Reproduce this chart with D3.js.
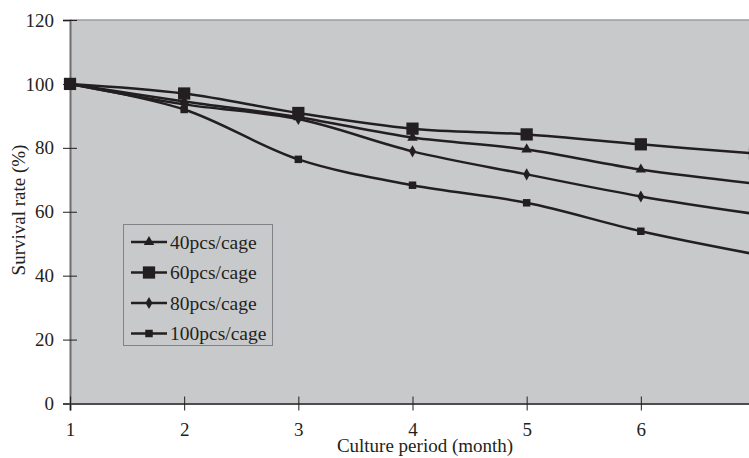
<!DOCTYPE html>
<html>
<head>
  <meta charset="utf-8">
  <title>survival rate chart</title>
  <script type="text/javascript" src="https://cdn.jsdelivr.net/npm/d3@7"></script>
  <style type="text/css">
    body { margin: 0; background: #fff; }
    text { font-family: "Liberation Serif", "Times New Roman", serif; fill: #231f20; }
  </style>
</head>
<body>
<script type="text/javascript">

// data
var months = [1, 2, 3, 4, 5, 6, 7];
var s40 = [100, 94.5, 89.6, 83.2, 79.5, 73.2, 68.8];
var s60 = [100, 97.0, 90.9, 86.0, 84.2, 81.1, 78.2];
var s80 = [100, 93.6, 89.0, 78.9, 71.7, 64.8, 59.3];
var s100 = [100, 92.0, 76.4, 68.3, 62.8, 53.9, 46.7];
var seriesNames = ["40pcs/cage", "60pcs/cage", "80pcs/cage", "100pcs/cage"];
var yTicks = [0, 20, 40, 60, 80, 100, 120];
var xTicks = [1, 2, 3, 4, 5, 6];

var w = 749, h = 458;
var ink = "#231f20";
var fontSize = "19px";

var series = [
  { name: seriesNames[0], values: s40, symbol: d3.symbolTriangle, size: 48 },
  { name: seriesNames[1], values: s60, symbol: d3.symbolSquare, size: 150 },
  { name: seriesNames[2], values: s80, symbol: d3.symbolDiamond, size: 42 },
  { name: seriesNames[3], values: s100, symbol: d3.symbolSquare, size: 56 }
];

var x = d3.scaleLinear().domain([1, 7]).range([70, 755]);
var y = d3.scaleLinear().domain([0, 120]).range([403.5, 20]);

var svg = d3.select("body").append("svg")
  .attr("width", w)
  .attr("height", h);

// plot area
svg.append("rect")
  .attr("x", x(1)).attr("y", y(120))
  .attr("width", x(7) - x(1)).attr("height", y(0) - y(120))
  .attr("fill", "#c8c9cb");
svg.append("line")
  .attr("x1", x(1)).attr("x2", x(7))
  .attr("y1", y(120)).attr("y2", y(120))
  .attr("stroke", "#9a9b9d").attr("stroke-width", 1.5);

// y axis
var yAxis = svg.append("g")
  .attr("transform", "translate(" + x(1) + ",0)")
  .call(d3.axisLeft(y).tickValues(yTicks).tickSize(7).tickPadding(9));
yAxis.select(".domain").attr("stroke", "#6d6e70").attr("stroke-width", 2);
yAxis.selectAll(".tick line").attr("x1", 7).attr("stroke", ink).attr("stroke-width", 1);
yAxis.selectAll(".tick text")
  .attr("font-size", fontSize)
  .attr("font-family", "Liberation Serif, serif")
  .attr("fill", ink);

// x axis
var xAxis = svg.append("g")
  .attr("transform", "translate(0," + y(0) + ")")
  .call(d3.axisBottom(x).tickValues(xTicks).tickFormat(d3.format("d")).tickSize(7).tickPadding(12));
xAxis.select(".domain").attr("stroke", "#4d4d4f").attr("stroke-width", 2);
xAxis.selectAll(".tick line").attr("y1", -7).attr("stroke", ink).attr("stroke-width", 1);
xAxis.selectAll(".tick text")
  .attr("font-size", fontSize)
  .attr("font-family", "Liberation Serif, serif")
  .attr("fill", ink);

// axis titles
svg.append("text")
  .attr("x", 425).attr("y", 452)
  .attr("text-anchor", "middle")
  .attr("font-size", fontSize)
  .text("Culture period (month)");

svg.append("text")
  .attr("transform", "translate(25,210) rotate(-90)")
  .attr("text-anchor", "middle")
  .attr("font-size", fontSize)
  .text("Survival rate (%)");

// lines
var line = d3.line()
  .x(function(d, i) { return x(months[i]); })
  .y(function(d) { return y(d); })
  .curve(d3.curveCatmullRom.alpha(0.5));

var g = svg.selectAll(".series")
  .data(series)
  .enter()
  .append("g")
  .attr("class", "series");

g.append("path")
  .attr("d", function(d) { return line(d.values); })
  .attr("fill", "none")
  .attr("stroke", ink)
  .attr("stroke-width", 2.5);

g.selectAll(".mark")
  .data(function(d) {
    return d.values.map(function(v, i) { return { v: v, i: i, s: d }; });
  })
  .enter()
  .append("path")
  .attr("class", "mark")
  .attr("transform", function(d) {
    return "translate(" + x(months[d.i]) + "," + y(d.v) + ")";
  })
  .attr("d", function(d) { return d3.symbol().type(d.s.symbol).size(d.s.size)(); })
  .attr("fill", ink);

// legend
var legend = svg.append("g");
legend.append("rect")
  .attr("x", 123.5).attr("y", 224.5)
  .attr("width", 149).attr("height", 121)
  .attr("fill", "#c8c9cb")
  .attr("stroke", "#808285").attr("stroke-width", 1);

var item = legend.selectAll(".item")
  .data(series)
  .enter()
  .append("g")
  .attr("class", "item")
  .attr("transform", function(d, i) { return "translate(0," + (242 + i * 30.5) + ")"; });

item.append("line")
  .attr("x1", 131).attr("x2", 167)
  .attr("stroke", ink).attr("stroke-width", 2.5);
item.append("path")
  .attr("transform", "translate(149,0)")
  .attr("d", function(d) { return d3.symbol().type(d.symbol).size(d.size)(); })
  .attr("fill", ink);
item.append("text")
  .attr("x", 170).attr("y", 6.5)
  .attr("font-size", "19.5px")
  .text(function(d) { return d.name; });

</script>
</body>
</html>
